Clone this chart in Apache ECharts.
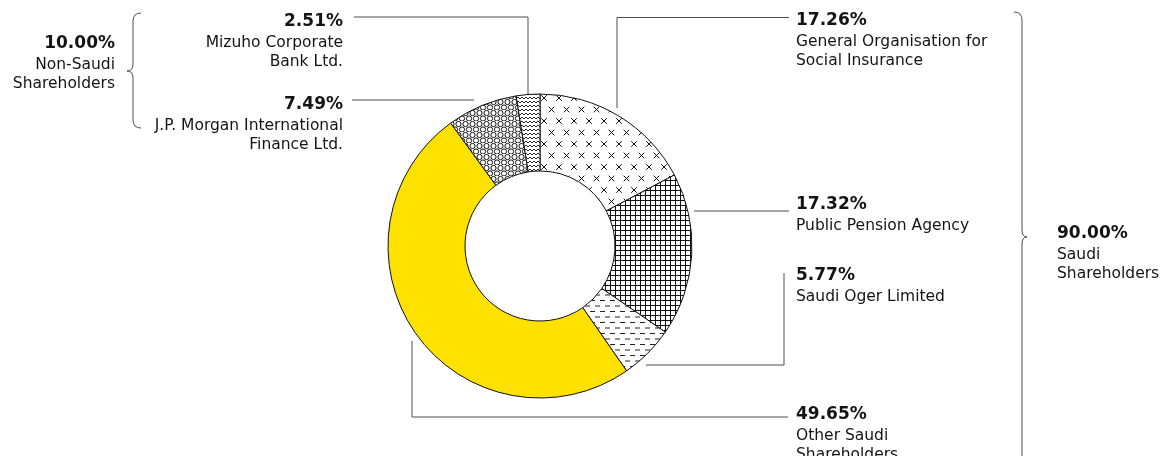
<!DOCTYPE html>
<html><head><meta charset="utf-8">
<script src="https://cdn.jsdelivr.net/npm/echarts@6/dist/echarts.min.js"></script>
<style>html,body{margin:0;padding:0;background:#fff}#c{width:1174px;height:456px}</style>
</head><body><div id="c"></div>
<script>
// ---- data ----
const sliceNames = [
  'General Organisation for\nSocial Insurance',
  'Public Pension Agency',
  'Saudi Oger Limited',
  'Other Saudi\nShareholders',
  'J.P. Morgan International\nFinance Ltd.',
  'Mizuho Corporate\nBank Ltd.'
];
const sliceValues = [17.26, 17.32, 5.77, 49.65, 7.49, 2.51];
const groupNames = ['Non-Saudi\nShareholders', 'Saudi\nShareholders'];
const groupValues = [10.00, 90.00];

// ---- styling / layout ----
const FONT = "'DejaVu Sans', sans-serif";
const TXT = '#141414';
const LINE = '#4d4d4d';

function makePattern(w, h, draw) {
  const c = document.createElement('canvas');
  c.width = w; c.height = h;
  const g = c.getContext('2d');
  g.fillStyle = '#fff'; g.fillRect(0, 0, w, h);
  g.strokeStyle = '#111'; g.lineWidth = 1;
  draw(g);
  return { image: c, repeat: 'repeat' };
}
function cross(g, cx, cy) {
  const s = 2.8;
  g.beginPath();
  g.moveTo(cx - s, cy - s); g.lineTo(cx + s, cy + s);
  g.moveTo(cx + s, cy - s); g.lineTo(cx - s, cy + s);
  g.stroke();
}
const fills = [
  makePattern(15, 23, g => { g.lineWidth = 1; cross(g, 4, 6); cross(g, 11.5, 17.5); }),
  makePattern(5, 5, g => { g.beginPath(); g.moveTo(0.5, 0); g.lineTo(0.5, 5); g.moveTo(0, 0.5); g.lineTo(5, 0.5); g.stroke(); }),
  makePattern(10, 11, g => { g.strokeStyle = '#222'; g.beginPath(); g.moveTo(0, 3.5); g.lineTo(5, 3.5); g.moveTo(5, 9); g.lineTo(10, 9); g.stroke(); }),
  '#FFE100',
  makePattern(7, 11, g => {
    g.lineWidth = 1;
    [[3.5, 3], [0, 8.5], [7, 8.5]].forEach(([x, y]) => { g.beginPath(); g.arc(x, y, 2.6, 0, Math.PI * 2); g.stroke(); });
  }),
  makePattern(4, 4, g => { g.lineWidth = 0.9; g.beginPath(); g.moveTo(0, 3); g.lineTo(2, 1); g.lineTo(4, 3); g.stroke(); })
];

const labelPos = [
  { x: 796, y: 9, align: 'left' },
  { x: 796, y: 193, align: 'left' },
  { x: 796, y: 264, align: 'left' },
  { x: 796, y: 403, align: 'left' },
  { x: 343, y: 93, align: 'right' },
  { x: 343, y: 10, align: 'right' }
];
const leaderLines = [
  [[617, 108], [617, 17.5], [789, 17.5]],
  [[694, 211], [789, 211]],
  [[646, 365], [784, 365], [784, 273]],
  [[412, 341], [412, 417], [788, 417]],
  [[352, 100], [474, 100]],
  [[354, 17], [528, 17], [528, 95]]
];
const groupPos = [
  { x: 115, y: 32, align: 'right' },
  { x: 1057, y: 222, align: 'left' }
];

const rich = {
  p: { fontFamily: FONT, fontWeight: 'bold', fontSize: 17, lineHeight: 23, color: TXT },
  n: { fontFamily: FONT, fontSize: 15.5, lineHeight: 19, color: TXT }
};
function richLabel(value, name) {
  return `{p|${value.toFixed(2)}%}\n` + name.split('\n').map(s => `{n|${s}}`).join('\n');
}

// braces
function brace(pts) {
  return pts.map(seg => seg.length === 2
    ? { type: 'line', silent: true, shape: { x1: seg[0][0], y1: seg[0][1], x2: seg[1][0], y2: seg[1][1] }, style: { stroke: LINE, lineWidth: 1 } }
    : { type: 'bezierCurve', silent: true, shape: { x1: seg[0][0], y1: seg[0][1], cpx1: seg[1][0], cpy1: seg[1][1], x2: seg[2][0], y2: seg[2][1] }, style: { stroke: LINE, lineWidth: 1, fill: null } });
}
const leftBrace = [
  [[141, 13], [133, 13], [133, 21]],
  [[133, 21], [133, 64]],
  [[133, 64], [133, 71], [127, 71]],
  [[127, 71], [133, 71], [133, 78]],
  [[133, 78], [133, 120]],
  [[133, 120], [133, 128], [141, 128]]
];
const rightBrace = [
  [[1014, 12], [1022, 12], [1022, 20]],
  [[1022, 20], [1022, 230]],
  [[1022, 230], [1022, 237], [1027, 237]],
  [[1027, 237], [1022, 237], [1022, 244]],
  [[1022, 244], [1022, 460]]
];

const graphics = [];
leaderLines.forEach(pts => graphics.push({ type: 'polyline', silent: true, shape: { points: pts }, style: { stroke: LINE, lineWidth: 1, fill: null } }));
graphics.push(...brace(leftBrace), ...brace(rightBrace));
groupNames.forEach((n, i) => {
  graphics.push({
    type: 'text', silent: true, x: groupPos[i].x, y: groupPos[i].y,
    style: { text: richLabel(groupValues[i], n), rich: rich, align: groupPos[i].align, verticalAlign: 'top', fill: TXT, font: `15px ${FONT}` }
  });
});

const chart = echarts.init(document.getElementById('c'));
chart.setOption({
  animation: false,
  backgroundColor: '#fff',
  graphic: { elements: graphics },
  series: [{
    type: 'pie',
    center: [540, 246],
    radius: [75, 152],
    startAngle: 90,
    clockwise: true,
    avoidLabelOverlap: false,
    silent: true,
    itemStyle: { borderColor: '#111', borderWidth: 1 },
    label: {
      show: true, position: 'outside',
      formatter: p => richLabel(p.value, p.name),
      rich: rich
    },
    labelLine: { show: false },
    labelLayout: p => {
      const L = labelPos[p.dataIndex];
      return { x: L.x, y: L.y, align: L.align, verticalAlign: 'top' };
    },
    data: sliceNames.map((n, i) => ({ name: n, value: sliceValues[i], itemStyle: { color: fills[i] } }))
  }]
});
</script></body></html>
